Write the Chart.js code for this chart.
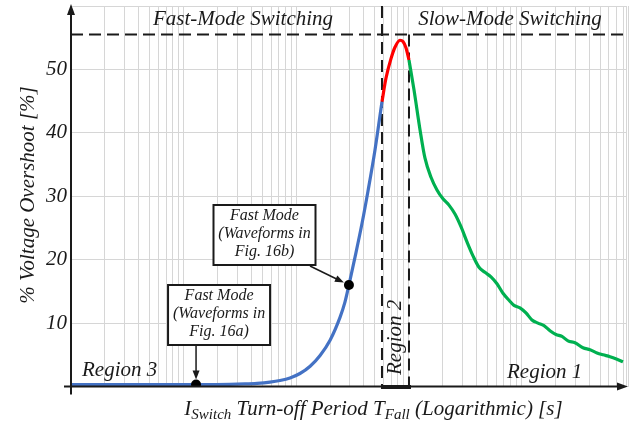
<!DOCTYPE html>
<html>
<head>
<meta charset="utf-8">
<script src="https://cdn.jsdelivr.net/npm/chart.js@4.4.1/dist/chart.umd.min.js"></script>
<style>
  html, body { margin: 0; padding: 0; background: #fff; }
  #wrap { width: 634px; height: 424px; }
</style>
</head>
<body>
<div id="wrap"><canvas id="overshoot"></canvas></div>
<script>
// fast-mode rise (blue)
const fastT = [1, 3.3, 12.9, 25.8, 35.1, 44.9, 58.5, 71.8, 88.1, 108, 133, 163, 200, 245, 271, 294, 333, 384, 434, 501, 578]
const fastV = [0.3, 0.3, 0.3, 0.33, 0.4, 0.5, 0.7, 0.95, 1.35, 2.05, 3.2, 4.9, 7.3, 10.9, 13.3, 16.0, 20.4, 25.7, 30.8, 37.3, 44.9]

// region 2 peak (red)
const peakT = [578, 627, 695, 754, 835, 888, 944, 1004]
const peakV = [44.9, 48.6, 51.7, 53.5, 54.6, 54.4, 53.4, 51.5]

// slow-mode decay (green)
const slowT = [1004, 1112, 1258, 1393, 1575, 1780, 2012, 2275, 2572, 2908, 3288, 3717, 4202, 4750,
  5370, 6072, 6865, 7761, 8596, 9718, 10987, 12420, 14042, 15876, 17948, 20292, 22941, 25937,
  29923, 35254, 40673, 46935, 53063, 61221, 70630, 79853]
const slowV = [51.5, 46.8, 40.5, 36.0, 33.0, 31.0, 29.6, 28.6, 27.2, 25.2, 22.8, 20.6, 18.8, 18.0,
  17.3, 16.2, 14.7, 13.6, 12.8, 12.4, 11.6, 10.5, 10.0, 9.6, 8.8, 8.2, 7.9, 7.2,
  6.9, 6.1, 5.8, 5.3, 5.0, 4.7, 4.3, 3.9]

// operating points marked with dots
const markT = [12.9, 294]
const markV = [0.3, 16.0]

const regionEdges = [578, 1004]
const maxOvershoot = 55.5
const xMin = 1
const xMax = 86700
const gridDecades = [1, 10, 100, 1000, 10000]
const gridSteps = [1, 2, 3, 4, 5, 6, 7, 8, 9]
const yTickLabels = [10, 20, 30, 40, 50]

const pts = (xs, ys) => xs.map((x, i) => ({ x: x, y: ys[i] }))
const xGrid = []
gridDecades.forEach(d => gridSteps.forEach(s => xGrid.push(d * s)))

const SERIF = '"Liberation Serif", "DejaVu Serif", serif'
const INK = '#1a1a1a'

function head(ctx, x, y, ang, len, hw) {
  ctx.save()
  ctx.translate(x, y)
  ctx.rotate(ang)
  ctx.beginPath()
  ctx.moveTo(0, 0)
  ctx.lineTo(-len, -hw)
  ctx.lineTo(-len, hw)
  ctx.closePath()
  ctx.fill()
  ctx.restore()
}

function arrow(ctx, x1, y1, x2, y2) {
  const ang = Math.atan2(y2 - y1, x2 - x1)
  ctx.beginPath()
  ctx.moveTo(x1, y1)
  ctx.lineTo(x2 - 7 * Math.cos(ang), y2 - 7 * Math.sin(ang))
  ctx.stroke()
  head(ctx, x2, y2, ang, 9, 3.5)
}

function box(ctx, cx, top, lines) {
  const w = 102, h = 60
  ctx.fillStyle = '#fff'
  ctx.fillRect(cx - w / 2, top, w, h)
  ctx.strokeStyle = INK
  ctx.lineWidth = 2
  ctx.strokeRect(cx - w / 2, top, w, h)
  ctx.fillStyle = INK
  ctx.font = 'italic 16px ' + SERIF
  ctx.textAlign = 'center'
  ctx.textBaseline = 'middle'
  lines.forEach((t, i) => ctx.fillText(t, cx, top + 11 + i * 18))
}

const overlay = {
  id: 'overlay',
  beforeDatasetsDraw(chart) {
    const { ctx, chartArea: a, scales: { x, y } } = chart
    ctx.save()
    // frame on top and right
    ctx.strokeStyle = '#d6d6d6'
    ctx.lineWidth = 1
    ctx.beginPath()
    ctx.moveTo(a.left, a.top + 0.5)
    ctx.lineTo(a.right - 0.5, a.top + 0.5)
    ctx.lineTo(a.right - 0.5, a.bottom)
    ctx.stroke()
    // dashed limits
    ctx.strokeStyle = INK
    ctx.lineWidth = 2
    ctx.setLineDash([12, 6])
    const yMax = y.getPixelForValue(maxOvershoot)
    const x1 = x.getPixelForValue(regionEdges[0])
    const x2 = x.getPixelForValue(regionEdges[1])
    ctx.beginPath()
    ctx.moveTo(a.left, yMax)
    ctx.lineTo(a.right, yMax)
    ctx.moveTo(x1, a.top)
    ctx.lineTo(x1, a.bottom)
    ctx.moveTo(x2, yMax)
    ctx.lineTo(x2, a.bottom)
    ctx.stroke()
    ctx.restore()
  },
  afterDatasetsDraw(chart) {
    const { ctx, chartArea: a, scales: { x, y } } = chart
    ctx.save()
    ctx.strokeStyle = INK
    ctx.fillStyle = INK
    ctx.lineWidth = 2
    // axes
    ctx.beginPath()
    ctx.moveTo(a.left, a.bottom + 8)
    ctx.lineTo(a.left, a.top + 8)
    ctx.moveTo(a.left - 7, a.bottom)
    ctx.lineTo(a.right - 8, a.bottom)
    ctx.stroke()
    head(ctx, a.left, a.top - 2, -Math.PI / 2, 11, 4)
    head(ctx, a.right + 1, a.bottom, 0, 11, 4)
    // region 2 bar on the axis
    const x1 = x.getPixelForValue(regionEdges[0])
    const x2 = x.getPixelForValue(regionEdges[1])
    ctx.fillRect(x1 - 1, a.bottom - 1.5, x2 - x1 + 3, 4)

    // texts
    ctx.font = 'italic 21px ' + SERIF
    ctx.textBaseline = 'alphabetic'
    ctx.textAlign = 'center'
    ctx.fillText('Fast-Mode Switching', 243, 25)
    ctx.fillText('Slow-Mode Switching', 510, 25)
    ctx.textAlign = 'left'
    ctx.fillText('Region 3', 82, 376)
    ctx.fillText('Region 1', 507, 378)
    ctx.save()
    ctx.translate(401, 375)
    ctx.rotate(-Math.PI / 2)
    ctx.fillText('Region 2', 0, 0)
    ctx.restore()
    ctx.save()
    ctx.translate(34, 195)
    ctx.rotate(-Math.PI / 2)
    ctx.textAlign = 'center'
    ctx.fillText('% Voltage Overshoot [%]', 0, 0)
    ctx.restore()

    // x title with subscripts
    const parts = [['I', 0], ['Switch', 1], [' Turn-off Period T', 0], ['Fall', 1], [' (Logarithmic) [s]', 0]]
    const big = 'italic 21px ' + SERIF, small = 'italic 15px ' + SERIF
    let total = 0
    parts.forEach(p => { ctx.font = p[1] ? small : big; total += ctx.measureText(p[0]).width })
    let cx = 373.5 - total / 2
    parts.forEach(p => {
      ctx.font = p[1] ? small : big
      ctx.fillText(p[0], cx, p[1] ? 419 : 415)
      cx += ctx.measureText(p[0]).width
    })

    // callouts
    const m1x = x.getPixelForValue(markT[0]), m1y = y.getPixelForValue(markV[0])
    const m2x = x.getPixelForValue(markT[1]), m2y = y.getPixelForValue(markV[1])
    ctx.lineWidth = 1.5
    arrow(ctx, m1x, 345, m1x, m1y - 5)
    arrow(ctx, 310, 266, m2x - 5, m2y - 2.5)
    box(ctx, m1x + 23, 285, ['Fast Mode', '(Waveforms in', 'Fig. 16a)'])
    box(ctx, 264.5, 205, ['Fast Mode', '(Waveforms in', 'Fig. 16b)'])
    ctx.restore()
  }
}

const curve = (data, color) => ({
  data: data,
  showLine: true,
  borderColor: color,
  backgroundColor: color,
  borderWidth: 3.2,
  pointRadius: 0,
  cubicInterpolationMode: 'monotone',
  order: 1
})

new Chart(document.getElementById('overshoot'), {
  type: 'scatter',
  data: {
    datasets: [
      {
        data: pts(markT, markV),
        pointRadius: 5,
        pointBackgroundColor: '#000',
        pointBorderWidth: 0,
        order: 0
      },
      curve(pts(fastT, fastV), '#4472C4'),
      curve(pts(peakT, peakV), '#FF0000'),
      curve(pts(slowT, slowV), '#00B050')
    ]
  },
  options: {
    responsive: true,
    maintainAspectRatio: false,
    animation: false,
    layout: { padding: { top: 6, right: 7, left: 0, bottom: 0 } },
    plugins: {
      legend: { display: false },
      tooltip: { enabled: false }
    },
    scales: {
      x: {
        type: 'logarithmic',
        min: xMin,
        max: xMax,
        border: { display: false },
        grid: { color: '#d6d6d6', lineWidth: 1, drawTicks: false },
        ticks: { display: false },
        afterBuildTicks: s => { s.ticks = xGrid.map(v => ({ value: v })) },
        afterFit: s => { s.height = 37.5; s.paddingLeft = 0; s.paddingRight = 0 }
      },
      y: {
        min: 0,
        max: 60,
        border: { display: false },
        grid: { color: '#d6d6d6', lineWidth: 1, drawTicks: false },
        ticks: {
          stepSize: 10,
          padding: 4,
          color: INK,
          font: { family: SERIF, style: 'italic', size: 21 },
          callback: v => yTickLabels.includes(v) ? v : ''
        },
        afterFit: s => { s.width = 71; s.paddingTop = 0; s.paddingBottom = 0 }
      }
    }
  },
  plugins: [overlay]
})
</script>
</body>
</html>
